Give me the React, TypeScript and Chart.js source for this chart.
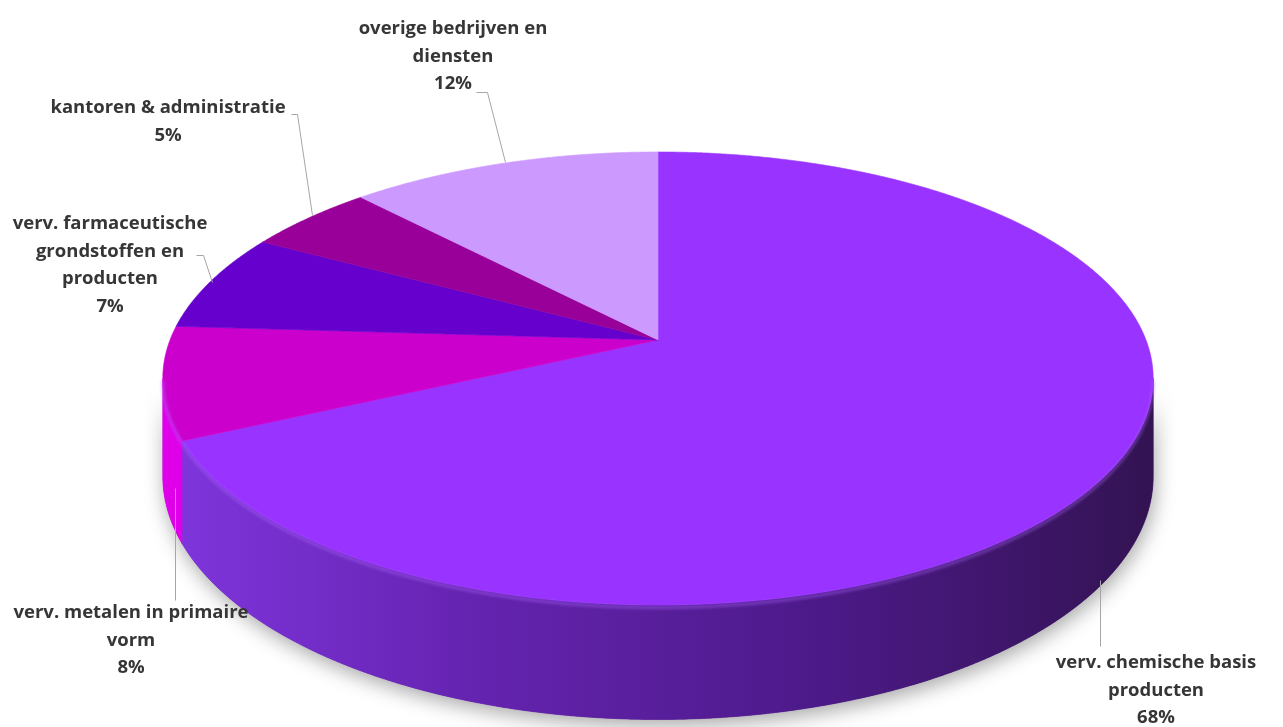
import React, { useEffect, useRef } from "react";
import { Chart, registerables } from "chart.js";

Chart.register(...registerables);

// ---- data ----
const categories = [
  "verv. chemische basis\nproducten",
  "verv. metalen in primaire\nvorm",
  "verv. farmaceutische\ngrondstoffen en\nproducten",
  "kantoren & administratie",
  "overige bedrijven en\ndiensten",
];
const shares = [68, 8, 7, 5, 12];
const topColors = ["#9933FF", "#CC00CC", "#6600CC", "#990099", "#CC99FF"];
const sideColors = [
  ["#8036de", "#6624b2", "#4d1a8a", "#331352"],
  ["#e000ea", "#c400cc", "#a800b0", "#8c0094"],
  ["#5c00c0", "#4c00a0", "#3c0080", "#2c0060"],
  ["#8c008c", "#760076", "#600060", "#4a004a"],
  ["#c08cf8", "#a878e0", "#9064c8", "#7850b0"],
];

// ---- label layout (anchor of first text line, leader polyline) ----
const labelPos = [
  { x: 1156, y: 663, leader: [[1100, 646], [1100, 580]] },
  { x: 131, y: 613, leader: [[175, 600], [175, 488]] },
  { x: 110, y: 224, leader: [[196, 255], [203, 255], [212, 282]] },
  { x: 168, y: 108, leader: [[291, 114], [297, 114], [312, 215]] },
  { x: 453, y: 29, leader: [[476, 92], [487, 92], [505, 162]] },
];
const LINE_H = 27.5;

// ---- perspective projection of the pie's circle ----
const K = 488; // horizontal half-size
const S = 220; // vertical foreshortening
const P = 0.17; // perspective strength
const DEPTH = 95; // thickness

const pie3d = {
  id: "pie3d",
  beforeDatasetsDraw(chart: any) {
    const meta = chart.getDatasetMeta(0);
    const arcs = meta.data;
    if (!arcs.length) return false;
    const ctx: CanvasRenderingContext2D = chart.ctx;
    const cx = arcs[0].x;
    const cy = arcs[0].y;
    const proj = (a: number, z: number) => {
      const u = Math.cos(a);
      const v = Math.sin(a);
      const w = 1 - P * v;
      return [cx + (K * u) / w, cy + (S * v) / w + z / w];
    };
    const aR = Math.asin(P);
    const aL = Math.PI - aR;
    const STEP = 0.005;

    const sidePath = (a0: number, a1: number) => {
      ctx.beginPath();
      const n = Math.max(2, Math.ceil((a1 - a0) / STEP));
      for (let k = 0; k <= n; k++) {
        const a = a0 + ((a1 - a0) * k) / n;
        const [x, y] = proj(a, 0);
        if (k === 0) ctx.moveTo(x, y);
        else ctx.lineTo(x, y);
      }
      for (let k = n; k >= 0; k--) {
        const a = a0 + ((a1 - a0) * k) / n;
        const [x, y] = proj(a, DEPTH);
        ctx.lineTo(x, y);
      }
      ctx.closePath();
    };

    // shadow under the whole side
    ctx.save();
    ctx.shadowColor = "rgba(0,0,0,0.35)";
    ctx.shadowBlur = 20;
    ctx.shadowOffsetY = 6;
    ctx.shadowOffsetX = 2;
    sidePath(aR, aL);
    ctx.fillStyle = "#5a1e9e";
    ctx.fill();
    ctx.restore();

    const xl = cx - K * 1.02;
    const xr = cx + K * 1.02;

    // side walls of each slice
    arcs.forEach((arc: any, i: number) => {
      const { startAngle, endAngle } = arc.getProps(["startAngle", "endAngle"], true);
      const s = Math.max(startAngle, aR);
      const e = Math.min(endAngle, aL);
      if (e <= s) return;
      const g = ctx.createLinearGradient(xr, 0, xl, 0);
      const cs = sideColors[i];
      g.addColorStop(0, cs[3]);
      g.addColorStop(0.35, cs[2]);
      g.addColorStop(0.7, cs[1]);
      g.addColorStop(1, cs[0]);
      sidePath(s, e);
      ctx.fillStyle = g;
      ctx.fill();
      ctx.strokeStyle = g;
      ctx.lineWidth = 0.6;
      ctx.stroke();
    });

    // top faces
    arcs.forEach((arc: any, i: number) => {
      const { startAngle, endAngle } = arc.getProps(["startAngle", "endAngle"], true);
      ctx.beginPath();
      ctx.moveTo(cx, cy);
      const n = Math.max(2, Math.ceil((endAngle - startAngle) / STEP));
      for (let k = 0; k <= n; k++) {
        const a = startAngle + ((endAngle - startAngle) * k) / n;
        const [x, y] = proj(a, 0);
        ctx.lineTo(x, y);
      }
      ctx.closePath();
      ctx.fillStyle = topColors[i];
      ctx.fill();
      ctx.strokeStyle = topColors[i];
      ctx.lineWidth = 0.6;
      ctx.stroke();
    });

    // soft bevel highlight on the front rim
    ctx.save();
    ctx.filter = "blur(1.5px)";
    ctx.beginPath();
    const n = Math.ceil((aL - aR) / STEP);
    for (let k = 0; k <= n; k++) {
      const a = aR + ((aL - aR) * k) / n;
      const [x, y] = proj(a, 2);
      if (k === 0) ctx.moveTo(x, y);
      else ctx.lineTo(x, y);
    }
    ctx.strokeStyle = "rgba(176,100,255,0.45)";
    ctx.lineWidth = 3;
    ctx.stroke();
    ctx.restore();

    return false;
  },
  afterDraw(chart: any) {
    const ctx: CanvasRenderingContext2D = chart.ctx;
    ctx.save();
    // leaders
    ctx.strokeStyle = "#a6a6a6";
    ctx.lineWidth = 1;
    labelPos.forEach((lp) => {
      ctx.beginPath();
      lp.leader.forEach(([x, y], k) => {
        if (k === 0) ctx.moveTo(x + 0.5, y + 0.5);
        else ctx.lineTo(x + 0.5, y + 0.5);
      });
      ctx.stroke();
    });
    // texts
    ctx.font = "bold 18.5px 'Open Sans'";
    ctx.fillStyle = "#363636";
    ctx.textAlign = "center";
    ctx.textBaseline = "middle";
    const vals = chart.data.datasets[0].data as number[];
    (chart.data.labels as string[]).forEach((lab, i) => {
      const lines = lab.split("\n").concat(`${vals[i]}%`);
      const lp = labelPos[i];
      lines.forEach((t, k) => ctx.fillText(t, lp.x, lp.y + k * LINE_H));
    });
    ctx.restore();
  },
};

export default function App() {
  const ref = useRef<HTMLCanvasElement | null>(null);
  useEffect(() => {
    if (!ref.current) return;
    const chart = new Chart(ref.current, {
      type: "pie",
      data: {
        labels: categories,
        datasets: [
          {
            data: shares,
            backgroundColor: topColors,
            borderWidth: 0,
          },
        ],
      },
      options: {
        responsive: false,
        animation: false,
        layout: { padding: { left: 33, right: 0, top: 0, bottom: 47 } },
        plugins: {
          legend: { display: false },
          tooltip: { enabled: false },
        },
      },
      plugins: [pie3d],
    });
    return () => chart.destroy();
  }, []);
  return (
    <div style={{ position: "absolute", left: 0, top: 0, width: 1283, height: 727, background: "#fff" }}>
      <canvas ref={ref} width={1283} height={727} />
    </div>
  );
}
